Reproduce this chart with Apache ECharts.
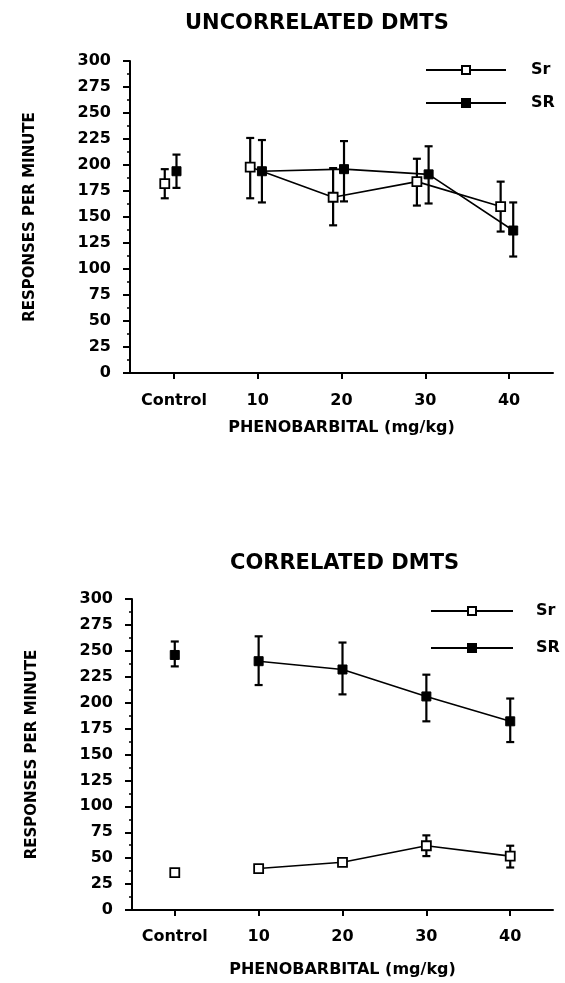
<!DOCTYPE html>
<html>
<head>
<meta charset="utf-8">
<script src="https://cdn.jsdelivr.net/npm/echarts@6/dist/echarts.min.js"></script>
<style>
  html, body { margin: 0; padding: 0; background: #fff; }
  #main { width: 565px; height: 983px; }
</style>
</head>
<body>
<div id="main"></div>
<script>
// dose positions on the x axis (0 = Control)
var doses = [0, 10, 20, 30, 40];
var doseLabels = ['Control', '10', '20', '30', '40'];
var yTicks = [0, 25, 50, 75, 100, 125, 150, 175, 200, 225, 250, 275, 300];

// ---- uncorrelated DMTS (points drawn slightly apart) ----
var uncSrX = [-1.1, 9.1, 19, 29, 39];
var uncSrMean = [182, 198, 169, 184, 160];
var uncSrLo = [168, 168, 142, 161, 136];
var uncSrHi = [196, 226, 197, 206, 184];

var uncSRX = [0.3, 10.5, 20.3, 30.4, 40.5];
var uncSRMean = [194, 194, 196, 191, 137];
var uncSRLo = [178, 164, 165, 163, 112];
var uncSRHi = [210, 224, 223, 218, 164];

// ---- correlated DMTS ----
var corSrX = [0, 10, 20, 30, 40];
var corSrMean = [36, 40, 46, 62, 52];
var corSrLo = [36, 38, 43, 52, 41];
var corSrHi = [36, 42, 49, 72, 62];

var corSRX = [0, 10, 20, 30, 40];
var corSRMean = [246, 240, 232, 206, 182];
var corSRLo = [235, 217, 208, 182, 162];
var corSRHi = [259, 264, 258, 227, 204];

var FONT = 'DejaVu Sans';

function pts(xs, ys, from, to) {
  var out = [];
  for (var i = from; i < to; i++) out.push([xs[i], ys[i]]);
  return out;
}
function bars(xs, lo, hi) {
  return xs.map(function (x, i) { return [x, lo[i], hi[i]]; });
}

function errorBarItem(params, api) {
  var x = api.value(0);
  var top = api.coord([x, api.value(2)]);
  var bot = api.coord([x, api.value(1)]);
  var w = 4;
  var st = { stroke: '#000', lineWidth: 2.2 };
  return {
    type: 'group',
    children: [
      { type: 'line', shape: { x1: top[0], y1: top[1], x2: bot[0], y2: bot[1] }, style: st },
      { type: 'line', shape: { x1: top[0] - w, y1: top[1], x2: top[0] + w, y2: top[1] }, style: st },
      { type: 'line', shape: { x1: bot[0] - w, y1: bot[1], x2: bot[0] + w, y2: bot[1] }, style: st }
    ]
  };
}

var openSym = { color: '#fff', borderColor: '#000', borderWidth: 1.8, opacity: 1 };
var fillSym = { color: '#000', borderColor: '#000', borderWidth: 1, opacity: 1 };

function chartSeries(idx, srX, srM, srLo, srHi, SRX, SRM, SRLo, SRHi) {
  return [
    { type: 'custom', xAxisIndex: idx, yAxisIndex: idx, z: 1, silent: true,
      renderItem: errorBarItem, encode: { x: 0, y: [1, 2] },
      data: bars(srX, srLo, srHi) },
    { type: 'custom', xAxisIndex: idx, yAxisIndex: idx, z: 1, silent: true,
      renderItem: errorBarItem, encode: { x: 0, y: [1, 2] },
      data: bars(SRX, SRLo, SRHi) },
    { name: 'Sr', type: 'line', xAxisIndex: idx, yAxisIndex: idx, z: 3,
      symbol: 'rect', symbolSize: 9, itemStyle: openSym,
      lineStyle: { color: '#000', width: 1.6 },
      data: pts(srX, srM, 1, srX.length) },
    { name: 'SR', type: 'line', xAxisIndex: idx, yAxisIndex: idx, z: 3,
      symbol: 'rect', symbolSize: 9, itemStyle: fillSym,
      lineStyle: { color: '#000', width: 1.6 },
      data: pts(SRX, SRM, 1, SRX.length) },
    { name: 'Sr', type: 'scatter', xAxisIndex: idx, yAxisIndex: idx, z: 3,
      symbol: 'rect', symbolSize: 9, itemStyle: openSym,
      data: pts(srX, srM, 0, 1) },
    { name: 'SR', type: 'scatter', xAxisIndex: idx, yAxisIndex: idx, z: 3,
      symbol: 'rect', symbolSize: 9, itemStyle: fillSym,
      data: pts(SRX, SRM, 0, 1) }
  ];
}

function xAxisCfg(idx, min, max, gap, margin) {
  return {
    type: 'value', gridIndex: idx, min: min, max: max,
    name: 'PHENOBARBITAL (mg/kg)', nameLocation: 'middle', nameGap: gap,
    nameTextStyle: { fontFamily: FONT, fontWeight: 'bold', fontSize: 16, color: '#000' },
    axisLine: { lineStyle: { color: '#000', width: 2 } },
    axisTick: { customValues: doses, length: 6, lineStyle: { color: '#000', width: 2 } },
    axisLabel: {
      customValues: doses, margin: margin, color: '#000',
      fontFamily: FONT, fontWeight: 'bold', fontSize: 16,
      formatter: function (v) { return doseLabels[doses.indexOf(v)]; }
    },
    splitLine: { show: false }
  };
}

function yAxisCfg(idx) {
  return {
    type: 'value', gridIndex: idx, min: 0, max: 300, interval: 25,
    name: 'RESPONSES PER MINUTE', nameLocation: 'middle', nameGap: 92,
    nameTextStyle: { fontFamily: FONT, fontWeight: 'bold', fontSize: 15, color: '#000' },
    axisLine: { show: true, onZero: false, lineStyle: { color: '#000', width: 2 } },
    axisTick: { show: true, customValues: yTicks, length: 7, lineStyle: { color: '#000', width: 2 } },
    minorTick: { show: true, splitNumber: 2, length: 3, lineStyle: { color: '#000', width: 1.5 } },
    axisLabel: { customValues: yTicks, margin: 19, color: '#000',
      fontFamily: FONT, fontWeight: 'bold', fontSize: 16 },
    splitLine: { show: false }
  };
}

function legendCfg(left, top, gap, w, pad) {
  return {
    left: left, top: top, orient: 'vertical', selectedMode: false,
    itemWidth: w, itemHeight: 10, itemGap: gap,
    data: ['Sr', 'SR'],
    textStyle: { fontFamily: FONT, fontWeight: 'bold', fontSize: 16, color: '#000',
      padding: [0, 0, 0, pad] }
  };
}

var chart = echarts.init(document.getElementById('main'), null, { renderer: 'canvas' });

var option = {
  backgroundColor: '#fff',
  animation: false,
  title: [
    { text: 'UNCORRELATED DMTS', left: 180, top: 8,
      textStyle: { fontFamily: FONT, fontWeight: 'bold', fontSize: 21, color: '#000' } },
    { text: 'CORRELATED DMTS', left: 225, top: 548,
      textStyle: { fontFamily: FONT, fontWeight: 'bold', fontSize: 21, color: '#000' } }
  ],
  legend: [
    legendCfg(420, 57, 17, 80, 20),
    legendCfg(425, 598, 21, 82, 18)
  ],
  grid: [
    { left: 130, top: 61, width: 423, height: 312 },
    { left: 132, top: 599, width: 421, height: 311 }
  ],
  xAxis: [
    xAxisCfg(0, -5.25, 45.25, 47, 20),
    xAxisCfg(1, -5.1, 45.1, 52, 19)
  ],
  yAxis: [yAxisCfg(0), yAxisCfg(1)],
  series: chartSeries(0, uncSrX, uncSrMean, uncSrLo, uncSrHi, uncSRX, uncSRMean, uncSRLo, uncSRHi)
    .concat(chartSeries(1, corSrX, corSrMean, corSrLo, corSrHi, corSRX, corSRMean, corSRLo, corSRHi))
};

chart.setOption(option);
</script>
</body>
</html>
